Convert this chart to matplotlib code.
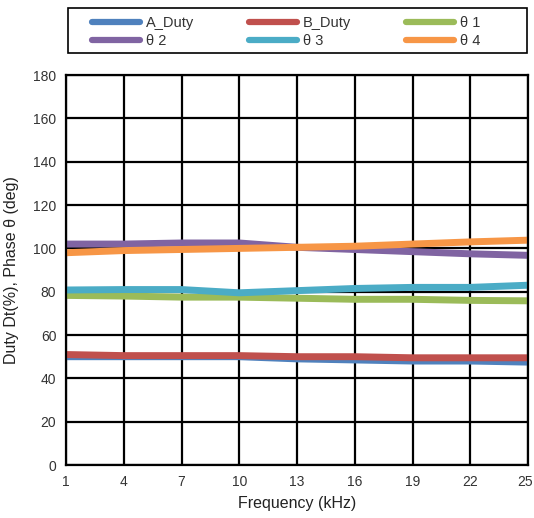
import matplotlib.pyplot as plt
import matplotlib.transforms as mtransforms
from matplotlib.patches import Rectangle

plt.rcParams['font.family'] = ['Liberation Sans', 'DejaVu Sans']

freq = [1, 4, 7, 10, 13, 16, 19, 22, 25]
a_duty = [50, 50, 50, 50, 49, 48.5, 48, 48, 47.5]
b_duty = [51, 50.5, 50.5, 50.5, 50, 50, 49.5, 49.5, 49.5]
theta1 = [78.3, 78, 77.5, 77.5, 77, 76.5, 76.5, 76, 75.8]
theta2 = [102, 102, 102.5, 102.5, 100.5, 99.5, 98.5, 97.5, 96.8]
theta3 = [80.8, 81, 81, 79.5, 80.5, 81.5, 82, 82, 83]
theta4 = [98, 99, 99.5, 100, 100.5, 101, 102, 103, 103.8]

names = ["A_Duty", "B_Duty", "θ 1", "θ 2", "θ 3", "θ 4"]
colors = ["#4F81BD", "#C0504D", "#9BBB59", "#8064A2", "#4BACC6", "#F79646"]
series = [a_duty, b_duty, theta1, theta2, theta3, theta4]

fig = plt.figure(figsize=(5.34, 5.18), dpi=100)
ax = fig.add_axes([0.1236, 0.1023, 0.8652, 0.7527])

lines = []
for y, c, n in zip(series, colors, names):
    ln, = ax.plot(freq, y, color=c, lw=5, label=n, solid_capstyle="butt")
    lines.append(ln)

ax.set_xlim(1, 25)
ax.set_ylim(0, 180)
ax.set_xticks(freq)
ax.set_yticks(range(0, 181, 20))
ax.grid(True, color="black", lw=1.6)
ax.set_axisbelow(True)
for s in ax.spines.values():
    s.set_linewidth(1.6)
ax.tick_params(length=0, labelsize=10, pad=7, labelcolor="#333333")
ax.set_xlabel("Frequency (kHz)", fontsize=11.5, labelpad=5, color="#222222")
ax.set_ylabel("Duty Dt(%), Phase θ (deg)", fontsize=11.5, labelpad=10, color="#222222")

# last x label sits a bit left so it stays inside the figure
fig.canvas.draw()
last = ax.get_xticklabels()[-1]
last.set_transform(last.get_transform() + mtransforms.ScaledTranslation(-0.03, 0, fig.dpi_scale_trans))

# legend box drawn by hand, entries placed inside it
fig.patches.append(Rectangle((0.1273, 0.8977), 0.8596, 0.0869, transform=fig.transFigure,
                             fill=False, edgecolor="black", lw=1.2))
order = [0, 3, 1, 4, 2, 5]
leg = fig.legend([lines[i] for i in order], [names[i] for i in order],
                 ncol=3, loc="upper left", bbox_to_anchor=(0.172, 0.969),
                 fontsize=10.5, frameon=False, handlelength=3.3, borderaxespad=0,
                 borderpad=0, labelspacing=0.3, handletextpad=0.4, columnspacing=3.75)
for h in leg.get_lines():
    h.set_linewidth(4.5)
    h.set_solid_capstyle("round")
for t in leg.get_texts():
    t.set_color("#333333")

fig.savefig("out.png")
